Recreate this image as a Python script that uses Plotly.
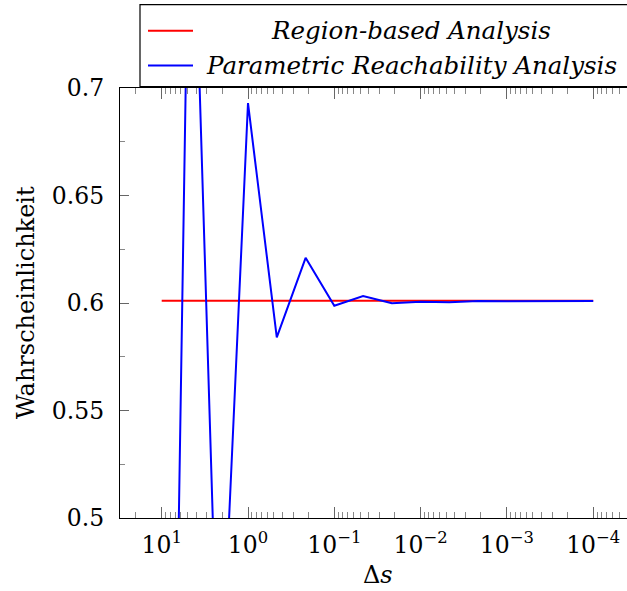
import numpy as np
import plotly.graph_objects as go

# Step sizes (one third of a decade apart) and resulting probabilities
delta_s = [10, 4.64, 2.15, 1, 0.464, 0.215, 0.1, 0.0464, 0.0215,
           0.01, 0.00464, 0.00215, 0.001, 0.000464, 0.000215, 0.0001]
region_based = [0.601] * len(delta_s)
parametric = [0.0, 0.84, 0.40, 0.693, 0.584, 0.621, 0.5987, 0.6032, 0.5999,
              0.6006, 0.6004, 0.6009, 0.6008, 0.6009, 0.6009, 0.6009]

series_names = ["Region-based Analysis", "Parametric Reachability Analysis"]
series_colors = ["#ff0000", "#0000ff"]

x_tick_vals = [10, 1, 0.1, 0.01, 0.001, 0.0001]
x_tick_text = ["10<sup>1</sup>", "10<sup>0</sup>", "10<sup>\u22121</sup>",
               "10<sup>\u22122</sup>", "10<sup>\u22123</sup>", "10<sup>\u22124</sup>"]
y_tick_vals = [0.5, 0.55, 0.6, 0.65, 0.7]
y_tick_text = ["0.5", "0.55", "0.6", "0.65", "0.7"]

x_minor = [m * 10.0 ** e for e in range(-5, 2) for m in range(2, 10)]
y_minor = [0.525, 0.575, 0.625, 0.675]

FONT = "DejaVu Serif"
W, H = 627, 591
L, T, B, R = 120, 87.5, 72.5, 0
PW, PH = W - L - R, H - T - B

fig = go.Figure()
for name, ys, col in zip(series_names, [region_based, parametric], series_colors):
    fig.add_trace(go.Scatter(x=delta_s, y=ys, mode="lines", name=name,
                             line=dict(color=col, width=2), showlegend=False))

axis_common = dict(showgrid=False, zeroline=False, showline=True,
                   linecolor="black", linewidth=1.2, ticks="inside",
                   tickcolor="#666", tickwidth=1,
                   tickfont=dict(family=FONT, size=23.5, color="black"))

fig.update_xaxes(type="log", range=[np.log10(10) + (161.7 - L) / 86.3,
                                    np.log10(10) - (W - 161.7) / 86.3],
                 tickmode="array", tickvals=x_tick_vals, ticktext=x_tick_text,
                 ticklen=11, mirror="ticks", ticklabelstandoff=6,
                 minor=dict(tickmode="array", tickvals=x_minor, ticks="inside",
                            ticklen=6, tickcolor="#888", tickwidth=1, showgrid=False),
                 **axis_common)
fig.update_yaxes(range=[0.5, 0.7], tickmode="array", tickvals=y_tick_vals,
                 ticktext=y_tick_text, ticklen=9, ticklabelstandoff=10,
                 minor=dict(tickmode="array", tickvals=y_minor, ticks="inside",
                            ticklen=5, tickcolor="#888", tickwidth=1, showgrid=False),
                 **axis_common)


def px(xp):
    return (xp - L) / PW


def py(yp):
    return (H - B - yp) / PH


# Legend box with line samples and centred italic labels
shapes = [dict(type="rect", xref="paper", yref="paper",
               x0=px(140), x1=px(700), y0=py(86), y1=py(4),
               line=dict(color="black", width=1.2), fillcolor="white", layer="above")]
annotations = []
for i, (name, col) in enumerate(zip(series_names, series_colors)):
    yy = 30 + 35 * i
    shapes.append(dict(type="line", xref="paper", yref="paper",
                       x0=px(148), x1=px(193), y0=py(yy), y1=py(yy),
                       line=dict(color=col, width=2)))
    annotations.append(dict(text=f"<i>{name}</i>", xref="paper", yref="paper",
                            x=px(411), y=py(yy), xanchor="center", yanchor="middle",
                            showarrow=False,
                            font=dict(family=FONT, size=24.5, color="black")))

annotations.append(dict(text="\u0394<i>s</i>", xref="paper", yref="paper",
                        x=px(378), y=py(576), xanchor="center", yanchor="middle",
                        showarrow=False, font=dict(family=FONT, size=24, color="black")))
annotations.append(dict(text="Wahrscheinlichkeit", xref="paper", yref="paper",
                        x=px(26), y=py(303), xanchor="center", yanchor="middle",
                        textangle=-90, showarrow=False,
                        font=dict(family=FONT, size=24, color="black")))

fig.update_layout(width=W, height=H, margin=dict(l=L, r=R, t=T, b=B),
                  plot_bgcolor="white", paper_bgcolor="white",
                  shapes=shapes, annotations=annotations, showlegend=False)

fig.write_html("out.html")
